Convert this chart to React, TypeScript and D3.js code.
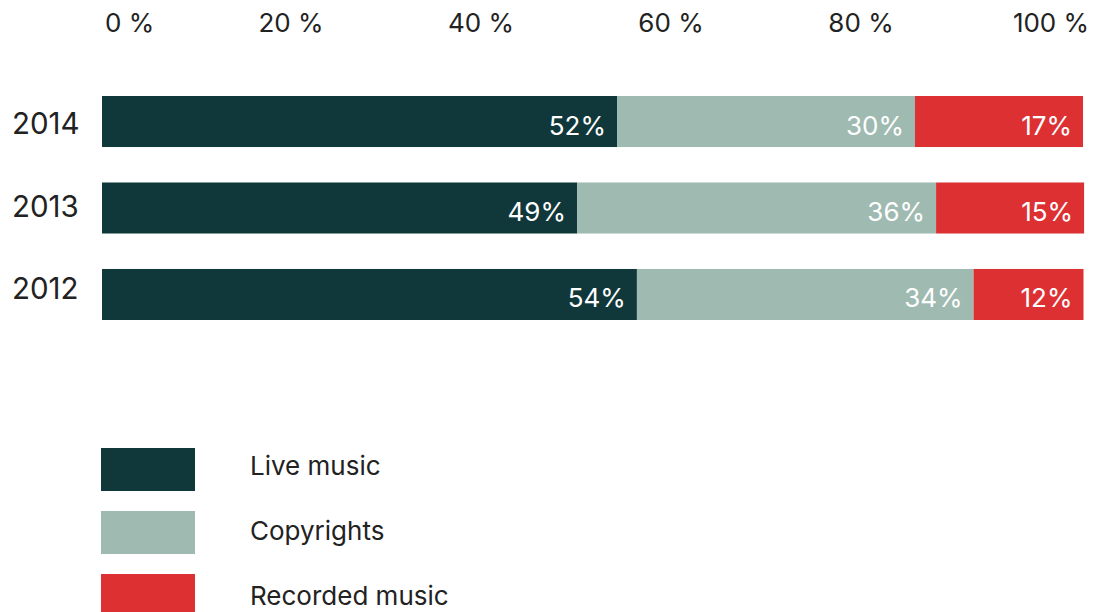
import React from "react";
import * as d3 from "d3";

const years = ["2014", "2013", "2012"];
const liveMusic = [52.47, 48.4, 54.5];
const copyrights = [30.36, 36.58, 34.3];
const recordedMusic = [17.12, 15.08, 11.2];
const liveLabels = ["52%", "49%", "54%"];
const copyrightLabels = ["30%", "36%", "34%"];
const recordedLabels = ["17%", "15%", "12%"];
const seriesNames = ["Live music", "Copyrights", "Recorded music"];
const axisTicks = [0, 20, 40, 60, 80, 100];

const COLORS = ["#10383a", "#9fbab1", "#dd3033"];
const FONT = "Inter, 'Noto Sans', sans-serif";
const TEXT = "#222222";

export default function App() {
  const W = 1095;
  const H = 612;
  const x = d3.scaleLinear().domain([0, 100]).range([102, 1083.5]);
  const xAxis = d3.scaleLinear().domain([0, 100]).range([101, 1051]);
  const y = d3.scaleBand<string>().domain(years).range([96, 320]).paddingInner(0.41).paddingOuter(0);
  const yLabel = d3.scaleLinear().domain([0, 1]).range([134, 216.5]);
  const legendY = d3.scaleLinear().domain([0, 1]).range([448, 511]);
  const legendTextY = d3.scaleLinear().domain([0, 1]).range([474.5, 539.5]);

  const series = [
    { name: seriesNames[0], values: liveMusic, labels: liveLabels },
    { name: seriesNames[1], values: copyrights, labels: copyrightLabels },
    { name: seriesNames[2], values: recordedMusic, labels: recordedLabels },
  ];

  const stacked = years.map((yr, i) => {
    let acc = 0;
    return series.map((s, k) => {
      const x0 = acc;
      acc += s.values[i];
      return { yr, k, x0, x1: acc, label: s.labels[i] };
    });
  });

  return (
    <svg width={W} height={H} style={{ position: "absolute", left: 0, top: 0, background: "#fff" }} fontFamily={FONT}>
      {axisTicks.map((t, i) => (
        <text
          key={t}
          x={i === 0 ? xAxis(t) + 4 : xAxis(t)}
          y={32}
          textAnchor={i === 0 ? "start" : "middle"}
          fontSize={26}
          fill={TEXT}
        >
          {t} %
        </text>
      ))}
      {years.map((yr, i) => (
        <text key={yr} x={12} y={yLabel(i)} fontSize={29.5} fill={TEXT}>
          {yr}
        </text>
      ))}
      {stacked.map((row) =>
        row.map((seg) => (
          <g key={seg.yr + seg.k}>
            <rect
              x={x(seg.x0)}
              y={y(seg.yr)}
              width={x(seg.x1) - x(seg.x0)}
              height={y.bandwidth()}
              fill={COLORS[seg.k]}
            />
            <text
              x={x(seg.x1) - 11}
              y={(y(seg.yr) as number) + y.bandwidth() / 2 + 13}
              textAnchor="end"
              fontSize={26}
              fill="#ffffff"
            >
              {seg.label}
            </text>
          </g>
        ))
      )}
      {seriesNames.map((n, i) => (
        <g key={n}>
          <rect x={101} y={legendY(i)} width={94} height={43} fill={COLORS[i]} />
          <text x={250} y={legendTextY(i)} fontSize={26} fill={TEXT}>
            {n}
          </text>
        </g>
      ))}
    </svg>
  );
}
